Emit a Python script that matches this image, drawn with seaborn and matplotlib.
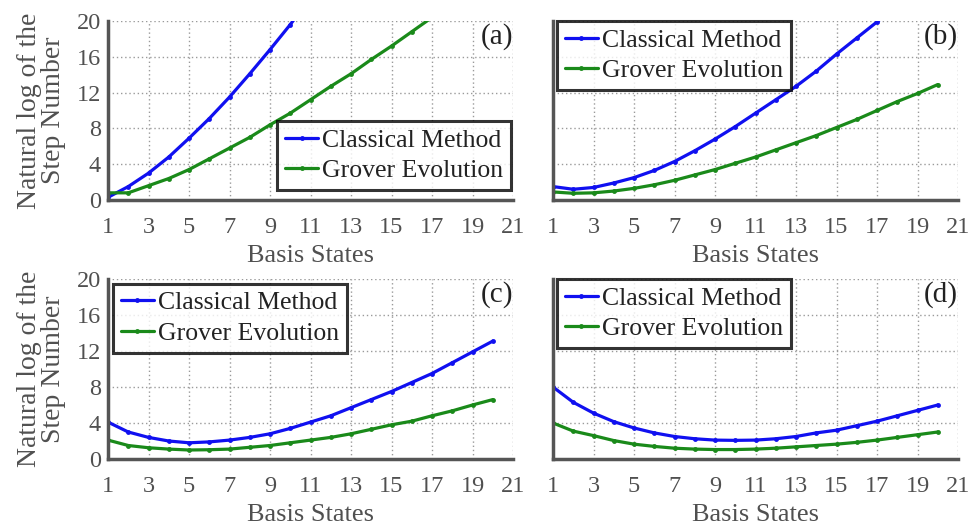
import numpy as np
import pandas as pd
import matplotlib
matplotlib.use("Agg")
import matplotlib.pyplot as plt
import seaborn as sns

sns.set_theme(style="white")
plt.rcParams['font.family'] = ['Liberation Serif', 'DejaVu Serif']

basis_states = list(range(1, 21))
series_names = ["Classical Method", "Grover Evolution"]
panel_labels = ["(a)", "(b)", "(c)", "(d)"]
x_ticks = [1, 3, 5, 7, 9, 11, 13, 15, 17, 19, 21]
y_ticks = [0, 4, 8, 12, 16, 20]

# panel (a)
a_classical = [0.3, 1.5, 3.0, 4.8, 6.9, 9.1, 11.5, 14.1, 16.8, 19.6, 22.6]
a_grover = [0.8, 0.8, 1.6, 2.4, 3.4, 4.6, 5.8, 7.0, 8.4, 9.7, 11.2, 12.7,
            14.1, 15.7, 17.2, 18.8, 20.4]
# panel (b)
b_classical = [1.5, 1.2, 1.4, 1.9, 2.5, 3.3, 4.3, 5.5, 6.8, 8.2, 9.7, 11.2,
               12.7, 14.4, 16.3, 18.1, 19.9, 21.8]
b_grover = [0.9, 0.75, 0.8, 1.0, 1.3, 1.7, 2.2, 2.8, 3.4, 4.1, 4.8, 5.6,
            6.4, 7.2, 8.1, 9.0, 10.0, 11.0, 11.9, 12.9]
# panel (c)
c_classical = [4.1, 3.0, 2.4, 2.0, 1.8, 1.9, 2.1, 2.4, 2.8, 3.4, 4.1, 4.8,
               5.7, 6.6, 7.5, 8.5, 9.5, 10.7, 11.9, 13.1]
c_grover = [2.1, 1.5, 1.25, 1.1, 1.0, 1.03, 1.1, 1.3, 1.5, 1.8, 2.1, 2.4,
            2.8, 3.3, 3.8, 4.2, 4.8, 5.35, 6.0, 6.6]
# panel (d)
d_classical = [8.0, 6.3, 5.1, 4.15, 3.45, 2.9, 2.5, 2.25, 2.1, 2.07, 2.1, 2.25,
               2.5, 2.9, 3.2, 3.7, 4.2, 4.8, 5.4, 6.0]
d_grover = [4.0, 3.1, 2.6, 2.05, 1.65, 1.4, 1.2, 1.1, 1.05, 1.05, 1.1, 1.2,
            1.35, 1.5, 1.65, 1.85, 2.1, 2.4, 2.7, 3.0]

panels = [(a_classical, a_grover), (b_classical, b_grover),
          (c_classical, c_grover), (d_classical, d_grover)]

W, H = 976, 524
fig = plt.figure(figsize=(W / 100, H / 100), dpi=100)
boxes = [(108, 21, 513, 200), (553, 21, 958, 200),
         (108, 279, 513, 459), (553, 279, 958, 459)]
legend_locs = ["lower right", "upper left", "upper left", "upper left"]
legend_anchor = [(0.995, 0.055), (0.01, 1.0), (0.012, 0.975), (0.01, 1.0)]

palette = {"Classical Method": "#1010f0", "Grover Evolution": "#1a8a1a"}
text_col = "#505050"
spine_col = "#555555"
fs_tick = 17.5
fs_leg = 18.5
fs_lab = 19

for i, ((cl, gr), (x0, y0, x1, y1)) in enumerate(zip(panels, boxes)):
    ax = fig.add_axes([x0 / W, 1 - y1 / H, (x1 - x0) / W, (y1 - y0) / H])
    df = pd.concat([
        pd.DataFrame({"x": basis_states[:len(cl)], "y": cl, "s": series_names[0]}),
        pd.DataFrame({"x": basis_states[:len(gr)], "y": gr, "s": series_names[1]}),
    ])
    sns.lineplot(data=df, x="x", y="y", hue="s", palette=palette, ax=ax,
                 marker="o", markersize=3.5, markeredgewidth=0, linewidth=2.3,
                 legend=True)
    ax.set_xlim(1, 21)
    ax.set_ylim(0, 20)
    ax.set_xticks(x_ticks)
    ax.set_yticks(y_ticks)
    ax.set_xticks(range(1, 22), minor=True)
    ax.set_yticks(range(0, 21, 2), minor=True)
    ax.grid(True, which="major", linestyle=(0, (1, 2)), color="#9a9a9a", linewidth=1.0)
    for s in ["top", "right"]:
        ax.spines[s].set_visible(False)
    for s in ["left", "bottom"]:
        ax.spines[s].set_color(spine_col)
        ax.spines[s].set_linewidth(2.5)
    ax.tick_params(which="both", direction="in", color=spine_col, width=1.5,
                   labelsize=fs_tick, labelcolor=text_col)
    ax.tick_params(axis="x", which="major", pad=12)
    ax.tick_params(axis="y", which="major", pad=5)
    ax.tick_params(which="major", length=5)
    ax.tick_params(which="minor", length=4)
    ax.set_xlabel("Basis States", fontsize=fs_lab, color=text_col, labelpad=5)
    if i % 2 == 0:
        ax.set_ylabel("Natural log of the\nStep Number", fontsize=20,
                      color=text_col, labelpad=8, linespacing=0.9)
    else:
        ax.set_ylabel("")
        ax.set_yticklabels([])
    leg = ax.legend(loc=legend_locs[i], bbox_to_anchor=legend_anchor[i],
                    fontsize=fs_leg, frameon=True, fancybox=False,
                    handlelength=1.3, handletextpad=0.15, borderpad=0.3,
                    labelspacing=0.3, borderaxespad=0.0)
    leg.get_frame().set_edgecolor("black")
    leg.get_frame().set_linewidth(2.2)
    for t in leg.get_texts():
        t.set_color("#222222")
    ax.text(1.0, 0.915, panel_labels[i], transform=ax.transAxes, ha="right",
            va="center", fontsize=21, color="#222222")

fig.savefig("out.png", dpi=100)
